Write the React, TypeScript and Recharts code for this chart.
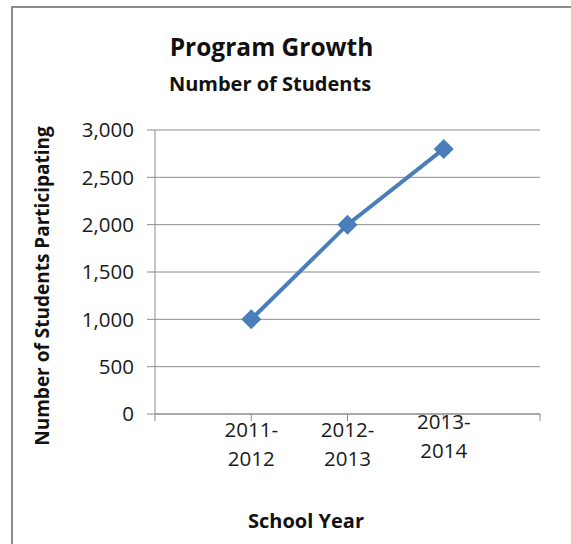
import React from 'react';
import { LineChart, Line, XAxis, YAxis, CartesianGrid } from 'recharts';

const schoolYears = ['2011-2012', '2012-2013', '2013-2014'];
const students = [1000, 2000, 2800];
const yTicks = [0, 500, 1000, 1500, 2000, 2500, 3000];

// Excel put the years on the inner tick marks, leaving an empty slot at each end
const data = schoolYears.map((year, i) => ({ slot: i + 1, year, students: students[i] }));
const slotTicks = [0, 1, 2, 3, 4];

const FONT = '"Open Sans", sans-serif';
const BLUE = '#4A7EBB';
const GRID = '#8C8C8C';

const Diamond = ({ cx, cy }: { cx?: number; cy?: number }) => {
  if (cx == null || cy == null) return null;
  const r = 10;
  return <polygon points={`${cx},${cy - r} ${cx + r},${cy} ${cx},${cy + r} ${cx - r},${cy}`} fill={BLUE} />;
};

const YearTick = ({ x, y, payload }: { x?: number; y?: number; payload?: { value: number } }) => {
  const label = schoolYears[(payload?.value ?? 0) - 1];
  if (!label) return null;
  const [a, b] = label.split('-');
  const lift = payload?.value === 3 ? -8 : 0;
  return (
    <text x={x} y={(y ?? 0) + lift} textAnchor="middle" fontFamily={FONT} fontSize={20.5} fill="#1a1a1a">
      <tspan x={x} dy={14}>{a}-</tspan>
      <tspan x={x} dy={29}>{b}</tspan>
    </text>
  );
};

const YTitle = () => (
  <text
    x={42}
    y={286}
    transform="rotate(-90 42 286)"
    textAnchor="middle"
    dominantBaseline="central"
    fontFamily={FONT}
    fontSize={19}
    fontWeight="bold"
    fill="#111"
  >
    Number of Students Participating
  </text>
);

const XTitle = () => (
  <text x={306} y={520} textAnchor="middle" dominantBaseline="central" fontFamily={FONT} fontSize={20} fontWeight="bold" fill="#111">
    School Year
  </text>
);

export default function App() {
  return (
    <div style={{ position: 'absolute', left: 0, top: 0, width: 571, height: 544, overflow: 'hidden', background: '#fff' }}>
      <div style={{ position: 'absolute', left: 11, top: 6, width: 640, height: 640, border: '2px solid #8C8C8C' }} />
      <div style={{ position: 'absolute', left: 0, width: 543, top: 30, textAlign: 'center', fontFamily: FONT, fontWeight: 'bold', fontSize: 24.5, color: '#111' }}>
        Program Growth
      </div>
      <div style={{ position: 'absolute', left: 0, width: 540, top: 70, textAlign: 'center', fontFamily: FONT, fontWeight: 'bold', fontSize: 20, color: '#111' }}>
        Number of Students
      </div>
      <div style={{ position: 'absolute', left: 0, top: 0 }}>
        <LineChart width={571} height={544} data={data} margin={{ top: 130, right: 31, bottom: 0, left: 0 }}>
          <CartesianGrid horizontal vertical={false} stroke={GRID} strokeWidth={1} />
          <XAxis
            dataKey="slot"
            type="number"
            domain={[0, 4]}
            ticks={slotTicks}
            interval={0}
            height={130}
            stroke={GRID}
            tickSize={7}
            tick={<YearTick />}
            label={<XTitle />}
          />
          <YAxis
            domain={[0, 3000]}
            ticks={yTicks}
            width={155}
            stroke={GRID}
            tickSize={8}
            tickMargin={13}
            tick={{ fontFamily: FONT, fontSize: 20.5, fill: '#1a1a1a' }}
            tickFormatter={(v: number) => v.toLocaleString('en-US')}
            label={<YTitle />}
          />
          <Line
            dataKey="students"
            stroke={BLUE}
            strokeWidth={4}
            dot={<Diamond />}
            activeDot={false}
            isAnimationActive={false}
          />
        </LineChart>
      </div>
    </div>
  );
}
